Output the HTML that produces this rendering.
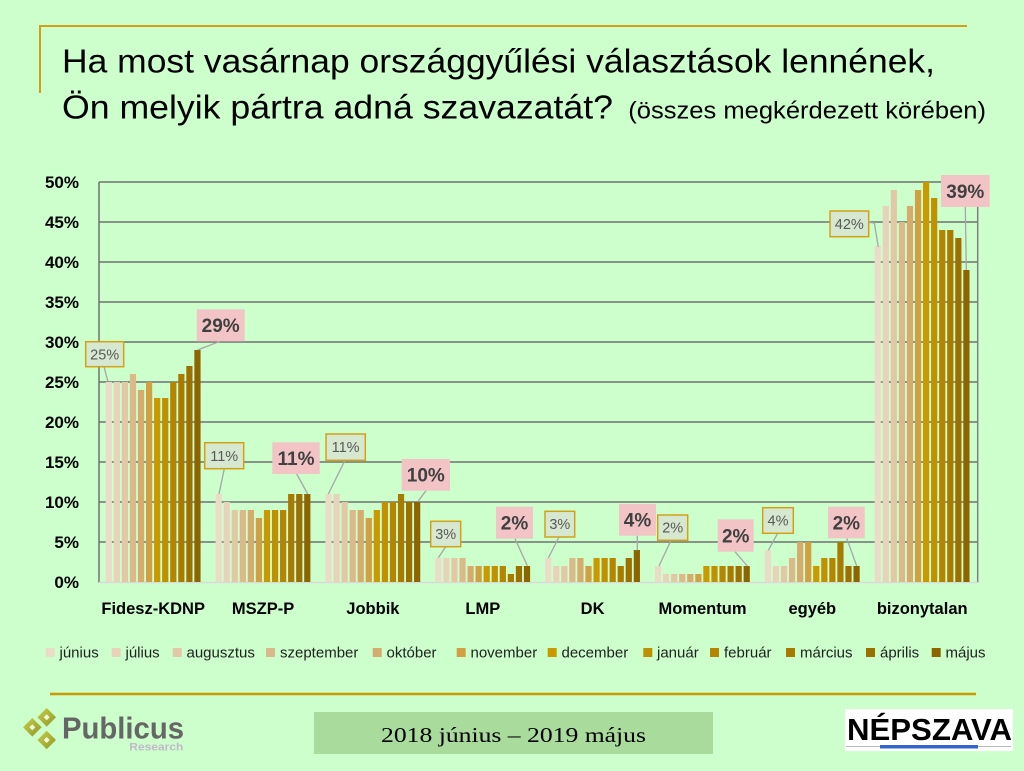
<!DOCTYPE html>
<html>
<head>
<meta charset="utf-8">
<style>
html,body{margin:0;padding:0;background:#CCFFCC;}
svg{display:block;}
.c0{fill:#EBDCC8}.c1{fill:#E8D3BA}.c2{fill:#E2C8A4}.c3{fill:#DCB98A}
.c4{fill:#D6AB6E}.c5{fill:#D1A045}.c6{fill:#C99A00}.c7{fill:#BF9000}
.c8{fill:#B38500}.c9{fill:#A87B00}.c10{fill:#9C7000}.c11{fill:#8C6400}
.yt{font-family:"Liberation Sans",sans-serif;font-weight:bold;font-size:17px;fill:#000;text-anchor:end;}
.cat{font-family:"Liberation Sans",sans-serif;font-weight:bold;font-size:16.5px;fill:#000;text-anchor:middle;}
.lg{font-family:"Liberation Sans",sans-serif;font-size:15px;fill:#222;}
.la{font-family:"Liberation Sans",sans-serif;font-size:14.5px;fill:#595959;text-anchor:middle;}
.lb{font-family:"Liberation Sans",sans-serif;font-size:19px;font-weight:bold;fill:#404040;text-anchor:middle;}
.ba{fill:#D6E8D0;stroke:#D4A017;stroke-width:1.5;}
.bb{fill:#F2C4C6;}
.ld{stroke:#A6A6A6;stroke-width:1.3;fill:none;}
.gl{stroke:#707070;stroke-width:1.5;}
</style>
</head>
<body>
<svg width="1024" height="771" viewBox="0 0 1024 771" xmlns="http://www.w3.org/2000/svg">
<defs>
<linearGradient id="dg" x1="0" y1="0" x2="1" y2="1">
<stop offset="0" stop-color="#C9CC4A"/><stop offset="1" stop-color="#8E9A24"/>
</linearGradient>
</defs>
<rect x="0" y="0" width="1024" height="771" fill="#CCFFCC"/>

<!-- title frame -->
<line x1="40" y1="26" x2="967" y2="26" stroke="#D4A017" stroke-width="2"/>
<line x1="40" y1="25" x2="40" y2="93" stroke="#D4A017" stroke-width="2"/>

<!-- title -->
<text x="62" y="72.5" font-family="Liberation Sans, sans-serif" font-size="33.5" fill="#000" textLength="873" lengthAdjust="spacingAndGlyphs">Ha most vasárnap országgyűlési választások lennének,</text>
<text x="62" y="118.5" font-family="Liberation Sans, sans-serif" font-size="33.5" fill="#000" textLength="551" lengthAdjust="spacingAndGlyphs">Ön melyik pártra adná szavazatát?</text>
<text x="628.3" y="118.5" font-family="Liberation Sans, sans-serif" font-size="24" fill="#000" textLength="357.7" lengthAdjust="spacingAndGlyphs">(összes megkérdezett körében)</text>

<!-- gridlines -->
<g class="gl">
<line x1="99" y1="182" x2="977.7" y2="182"/>
<line x1="99" y1="222" x2="977.7" y2="222"/>
<line x1="99" y1="262" x2="977.7" y2="262"/>
<line x1="99" y1="302" x2="977.7" y2="302"/>
<line x1="99" y1="342" x2="977.7" y2="342"/>
<line x1="99" y1="382" x2="977.7" y2="382"/>
<line x1="99" y1="422" x2="977.7" y2="422"/>
<line x1="99" y1="462" x2="977.7" y2="462"/>
<line x1="99" y1="502" x2="977.7" y2="502"/>
<line x1="99" y1="542" x2="977.7" y2="542"/>
<line x1="99" y1="182" x2="99" y2="582.5"/>
</g>
<line x1="977.7" y1="182" x2="977.7" y2="582.5" stroke="#808080" stroke-width="1.5"/>
<line x1="99" y1="582.5" x2="977.7" y2="582.5" stroke="#D9D9D9" stroke-width="1.5"/>

<!-- y ticks -->
<text class="yt" x="79" y="188">50%</text>
<text class="yt" x="79" y="228">45%</text>
<text class="yt" x="79" y="268">40%</text>
<text class="yt" x="79" y="308">35%</text>
<text class="yt" x="79" y="348">30%</text>
<text class="yt" x="79" y="388">25%</text>
<text class="yt" x="79" y="428">20%</text>
<text class="yt" x="79" y="468">15%</text>
<text class="yt" x="79" y="508">10%</text>
<text class="yt" x="79" y="548">5%</text>
<text class="yt" x="79" y="588">0%</text>

<!-- bars: Fidesz -->
<g transform="translate(105.7 0)">
<rect class="c0" x="0" y="382" width="6.2" height="200"/>
<rect class="c1" x="8.06" y="382" width="6.2" height="200"/>
<rect class="c2" x="16.12" y="382" width="6.2" height="200"/>
<rect class="c3" x="24.18" y="374" width="6.2" height="208"/>
<rect class="c4" x="32.24" y="390" width="6.2" height="192"/>
<rect class="c5" x="40.3" y="382" width="6.2" height="200"/>
<rect class="c6" x="48.36" y="398" width="6.2" height="184"/>
<rect class="c7" x="56.42" y="398" width="6.2" height="184"/>
<rect class="c8" x="64.48" y="382" width="6.2" height="200"/>
<rect class="c9" x="72.54" y="374" width="6.2" height="208"/>
<rect class="c10" x="80.6" y="366" width="6.2" height="216"/>
<rect class="c11" x="88.66" y="350" width="6.2" height="232"/>
</g>
<!-- MSZP-P -->
<g transform="translate(215.55 0)">
<rect class="c0" x="0" y="494" width="6.2" height="88"/>
<rect class="c1" x="8.06" y="502" width="6.2" height="80"/>
<rect class="c2" x="16.12" y="510" width="6.2" height="72"/>
<rect class="c3" x="24.18" y="510" width="6.2" height="72"/>
<rect class="c4" x="32.24" y="510" width="6.2" height="72"/>
<rect class="c5" x="40.3" y="518" width="6.2" height="64"/>
<rect class="c6" x="48.36" y="510" width="6.2" height="72"/>
<rect class="c7" x="56.42" y="510" width="6.2" height="72"/>
<rect class="c8" x="64.48" y="510" width="6.2" height="72"/>
<rect class="c9" x="72.54" y="494" width="6.2" height="88"/>
<rect class="c10" x="80.6" y="494" width="6.2" height="88"/>
<rect class="c11" x="88.66" y="494" width="6.2" height="88"/>
</g>
<!-- Jobbik -->
<g transform="translate(325.4 0)">
<rect class="c0" x="0" y="494" width="6.2" height="88"/>
<rect class="c1" x="8.06" y="494" width="6.2" height="88"/>
<rect class="c2" x="16.12" y="502" width="6.2" height="80"/>
<rect class="c3" x="24.18" y="510" width="6.2" height="72"/>
<rect class="c4" x="32.24" y="510" width="6.2" height="72"/>
<rect class="c5" x="40.3" y="518" width="6.2" height="64"/>
<rect class="c6" x="48.36" y="510" width="6.2" height="72"/>
<rect class="c7" x="56.42" y="502" width="6.2" height="80"/>
<rect class="c8" x="64.48" y="502" width="6.2" height="80"/>
<rect class="c9" x="72.54" y="494" width="6.2" height="88"/>
<rect class="c10" x="80.6" y="502" width="6.2" height="80"/>
<rect class="c11" x="88.66" y="502" width="6.2" height="80"/>
</g>
<!-- LMP -->
<g transform="translate(435.25 0)">
<rect class="c0" x="0" y="558" width="6.2" height="24"/>
<rect class="c1" x="8.06" y="558" width="6.2" height="24"/>
<rect class="c2" x="16.12" y="558" width="6.2" height="24"/>
<rect class="c3" x="24.18" y="558" width="6.2" height="24"/>
<rect class="c4" x="32.24" y="566" width="6.2" height="16"/>
<rect class="c5" x="40.3" y="566" width="6.2" height="16"/>
<rect class="c6" x="48.36" y="566" width="6.2" height="16"/>
<rect class="c7" x="56.42" y="566" width="6.2" height="16"/>
<rect class="c8" x="64.48" y="566" width="6.2" height="16"/>
<rect class="c9" x="72.54" y="574" width="6.2" height="8"/>
<rect class="c10" x="80.6" y="566" width="6.2" height="16"/>
<rect class="c11" x="88.66" y="566" width="6.2" height="16"/>
</g>
<!-- DK -->
<g transform="translate(545.1 0)">
<rect class="c0" x="0" y="558" width="6.2" height="24"/>
<rect class="c1" x="8.06" y="566" width="6.2" height="16"/>
<rect class="c2" x="16.12" y="566" width="6.2" height="16"/>
<rect class="c3" x="24.18" y="558" width="6.2" height="24"/>
<rect class="c4" x="32.24" y="558" width="6.2" height="24"/>
<rect class="c5" x="40.3" y="566" width="6.2" height="16"/>
<rect class="c6" x="48.36" y="558" width="6.2" height="24"/>
<rect class="c7" x="56.42" y="558" width="6.2" height="24"/>
<rect class="c8" x="64.48" y="558" width="6.2" height="24"/>
<rect class="c9" x="72.54" y="566" width="6.2" height="16"/>
<rect class="c10" x="80.6" y="558" width="6.2" height="24"/>
<rect class="c11" x="88.66" y="550" width="6.2" height="32"/>
</g>
<!-- Momentum -->
<g transform="translate(654.95 0)">
<rect class="c0" x="0" y="566" width="6.2" height="16"/>
<rect class="c1" x="8.06" y="574" width="6.2" height="8"/>
<rect class="c2" x="16.12" y="574" width="6.2" height="8"/>
<rect class="c3" x="24.18" y="574" width="6.2" height="8"/>
<rect class="c4" x="32.24" y="574" width="6.2" height="8"/>
<rect class="c5" x="40.3" y="574" width="6.2" height="8"/>
<rect class="c6" x="48.36" y="566" width="6.2" height="16"/>
<rect class="c7" x="56.42" y="566" width="6.2" height="16"/>
<rect class="c8" x="64.48" y="566" width="6.2" height="16"/>
<rect class="c9" x="72.54" y="566" width="6.2" height="16"/>
<rect class="c10" x="80.6" y="566" width="6.2" height="16"/>
<rect class="c11" x="88.66" y="566" width="6.2" height="16"/>
</g>
<!-- egyéb -->
<g transform="translate(764.8 0)">
<rect class="c0" x="0" y="550" width="6.2" height="32"/>
<rect class="c1" x="8.06" y="566" width="6.2" height="16"/>
<rect class="c2" x="16.12" y="566" width="6.2" height="16"/>
<rect class="c3" x="24.18" y="558" width="6.2" height="24"/>
<rect class="c4" x="32.24" y="542" width="6.2" height="40"/>
<rect class="c5" x="40.3" y="542" width="6.2" height="40"/>
<rect class="c6" x="48.36" y="566" width="6.2" height="16"/>
<rect class="c7" x="56.42" y="558" width="6.2" height="24"/>
<rect class="c8" x="64.48" y="558" width="6.2" height="24"/>
<rect class="c9" x="72.54" y="542" width="6.2" height="40"/>
<rect class="c10" x="80.6" y="566" width="6.2" height="16"/>
<rect class="c11" x="88.66" y="566" width="6.2" height="16"/>
</g>
<!-- bizonytalan -->
<g transform="translate(874.65 0)">
<rect class="c0" x="0" y="246" width="6.2" height="336"/>
<rect class="c1" x="8.06" y="206" width="6.2" height="376"/>
<rect class="c2" x="16.12" y="190" width="6.2" height="392"/>
<rect class="c3" x="24.18" y="222" width="6.2" height="360"/>
<rect class="c4" x="32.24" y="206" width="6.2" height="376"/>
<rect class="c5" x="40.3" y="190" width="6.2" height="392"/>
<rect class="c6" x="48.36" y="182" width="6.2" height="400"/>
<rect class="c7" x="56.42" y="198" width="6.2" height="384"/>
<rect class="c8" x="64.48" y="230" width="6.2" height="352"/>
<rect class="c9" x="72.54" y="230" width="6.2" height="352"/>
<rect class="c10" x="80.6" y="238" width="6.2" height="344"/>
<rect class="c11" x="88.66" y="270" width="6.2" height="312"/>
</g>

<!-- leader lines -->
<g class="ld">
<line x1="104" y1="366.7" x2="108" y2="381.7"/>
<line x1="224.3" y1="468.7" x2="219" y2="494"/>
<line x1="345" y1="460.3" x2="328.3" y2="494"/>
<line x1="445.7" y1="546.7" x2="438.3" y2="557.7"/>
<line x1="559" y1="537" x2="548.3" y2="558"/>
<line x1="671" y1="540.3" x2="659" y2="566"/>
<line x1="777.7" y1="533.3" x2="768.3" y2="550.3"/>
<polyline points="868.7,222.3 874.3,223 878.3,247"/>
<line x1="220" y1="341.3" x2="197.5" y2="350"/>
<line x1="296.7" y1="474" x2="307.7" y2="494"/>
<line x1="426" y1="490.7" x2="417.7" y2="501.7"/>
<line x1="515" y1="538.7" x2="527.3" y2="565.7"/>
<line x1="637.3" y1="535.7" x2="637.3" y2="550.3"/>
<line x1="735" y1="551.7" x2="747.3" y2="566"/>
<line x1="846.7" y1="538.3" x2="856.7" y2="566"/>
<line x1="965.3" y1="207" x2="966.3" y2="270"/>
</g>

<!-- type A labels (first month) -->
<rect class="ba" x="85.7" y="341.7" width="38" height="25"/>
<text class="la" x="104.7" y="359.3">25%</text>
<rect class="ba" x="204.7" y="442.7" width="39" height="26"/>
<text class="la" x="224.2" y="460.8">11%</text>
<rect class="ba" x="326" y="434" width="39.3" height="26.3"/>
<text class="la" x="345.6" y="452.2">11%</text>
<rect class="ba" x="430.7" y="521.3" width="30" height="25.4"/>
<text class="la" x="445.7" y="539.1">3%</text>
<rect class="ba" x="545" y="511.3" width="29.7" height="25.7"/>
<text class="la" x="559.8" y="529.2">3%</text>
<rect class="ba" x="657.7" y="515" width="30" height="25.3"/>
<text class="la" x="672.7" y="532.7">2%</text>
<rect class="ba" x="762.7" y="507.7" width="30.6" height="25.6"/>
<text class="la" x="778" y="525.5">4%</text>
<rect class="ba" x="830" y="211" width="38.7" height="25.7"/>
<text class="la" x="849.3" y="228.9">42%</text>

<!-- type B labels (last month) -->
<rect class="bb" x="196.7" y="309.3" width="48" height="32"/>
<text class="lb" x="220.7" y="332">29%</text>
<rect class="bb" x="272.3" y="442.3" width="47.4" height="31.7"/>
<text class="lb" x="296" y="465">11%</text>
<rect class="bb" x="401.7" y="459" width="48.3" height="31.7"/>
<text class="lb" x="425.8" y="481.7">10%</text>
<rect class="bb" x="496" y="506.7" width="37" height="32"/>
<text class="lb" x="514.5" y="529.5">2%</text>
<rect class="bb" x="619" y="504" width="37" height="31.7"/>
<text class="lb" x="637.5" y="526.7">4%</text>
<rect class="bb" x="717.7" y="519.3" width="36" height="32.4"/>
<text class="lb" x="735.7" y="542.3">2%</text>
<rect class="bb" x="828" y="506.7" width="36.7" height="31.6"/>
<text class="lb" x="846.3" y="529.3">2%</text>
<rect class="bb" x="941" y="175" width="48.7" height="32"/>
<text class="lb" x="965.3" y="197.8">39%</text>

<!-- category labels -->
<text class="cat" x="153.2" y="614">Fidesz-KDNP</text>
<text class="cat" x="263.1" y="614">MSZP-P</text>
<text class="cat" x="372.9" y="614">Jobbik</text>
<text class="cat" x="482.8" y="614">LMP</text>
<text class="cat" x="592.6" y="614">DK</text>
<text class="cat" x="702.5" y="614">Momentum</text>
<text class="cat" x="812.3" y="614">egyéb</text>
<text class="cat" x="922.2" y="614">bizonytalan</text>

<!-- legend -->
<rect class="c0" x="45.7" y="648" width="9" height="9"/><text class="lg" x="59.5" y="657.5">június</text>
<rect class="c1" x="111.7" y="648" width="9" height="9"/><text class="lg" x="125.5" y="657.5">július</text>
<rect class="c2" x="172.7" y="648" width="9" height="9"/><text class="lg" x="186.5" y="657.5">augusztus</text>
<rect class="c3" x="266" y="648" width="9" height="9"/><text class="lg" x="280" y="657.5">szeptember</text>
<rect class="c4" x="372.7" y="648" width="9" height="9"/><text class="lg" x="386.5" y="657.5">október</text>
<rect class="c5" x="456.7" y="648" width="9" height="9"/><text class="lg" x="470.5" y="657.5">november</text>
<rect class="c6" x="547.7" y="648" width="9" height="9"/><text class="lg" x="561.5" y="657.5">december</text>
<rect class="c7" x="643.3" y="648" width="9" height="9"/><text class="lg" x="657" y="657.5">január</text>
<rect class="c8" x="710" y="648" width="9" height="9"/><text class="lg" x="724" y="657.5">február</text>
<rect class="c9" x="786" y="648" width="9" height="9"/><text class="lg" x="800" y="657.5">március</text>
<rect class="c10" x="866" y="648" width="9" height="9"/><text class="lg" x="880" y="657.5">április</text>
<rect class="c11" x="931.7" y="648" width="9" height="9"/><text class="lg" x="945.5" y="657.5">május</text>

<!-- footer line -->
<line x1="50" y1="694" x2="976" y2="694" stroke="#CC9900" stroke-width="2.5"/>

<!-- Publicus logo -->
<g>
<polygon points="46.7,708 56,717.3 46.7,726.6 37.4,717.3" fill="url(#dg)"/>
<polygon points="46.7,714.3 49.7,717.3 46.7,720.3 43.7,717.3" fill="#F4F6E0"/>
<polygon points="32.3,718 41.6,727.3 32.3,736.6 23,727.3" fill="url(#dg)"/>
<polygon points="32.3,724.3 35.3,727.3 32.3,730.3 29.3,727.3" fill="#F4F6E0"/>
<polygon points="46.7,730.7 56,740 46.7,749.3 37.4,740" fill="url(#dg)"/>
<polygon points="46.7,737 49.7,740 46.7,743 43.7,740" fill="#F4F6E0"/>
</g>
<text x="62" y="738.3" font-family="Liberation Sans, sans-serif" font-weight="bold" font-size="31" fill="#666666" textLength="122" lengthAdjust="spacingAndGlyphs">Publicus</text>
<text x="129.3" y="750.5" font-family="Liberation Sans, sans-serif" font-weight="bold" font-size="11" fill="#C4B8CC" textLength="54" lengthAdjust="spacingAndGlyphs">Research</text>

<!-- date box -->
<rect x="314" y="712" width="399" height="42" fill="#A9DB9C"/>
<text x="381" y="742" font-family="Liberation Serif, serif" font-size="21" fill="#000" textLength="265" lengthAdjust="spacingAndGlyphs">2018 június – 2019 május</text>

<!-- Népszava logo -->
<rect x="845" y="709" width="168" height="42" fill="#FFFFFF"/>
<text x="847" y="740" font-family="Liberation Sans, sans-serif" font-weight="bold" font-size="31" fill="#000" textLength="165" lengthAdjust="spacingAndGlyphs">NÉPSZAVA</text>
<line x1="846" y1="746.5" x2="1011" y2="746.5" stroke="#BBBBBB" stroke-width="1"/>
<rect x="880" y="745" width="98" height="3.5" fill="#3366CC"/>
</svg>
</body>
</html>
